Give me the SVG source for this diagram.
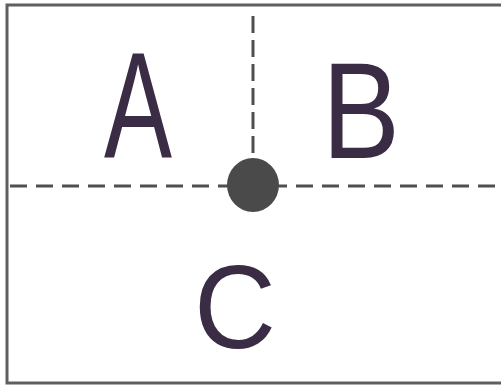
<svg xmlns="http://www.w3.org/2000/svg" width="501" height="387" viewBox="0 0 501 387">
  <style>
    .frame { fill: #ffffff; stroke: #5f5f5f; stroke-width: 3; }
    .dash { stroke: #4f4f4f; stroke-width: 3; fill: none; }
    .lbl { font-family: "Liberation Sans", Arial, sans-serif; fill: #3a2c44; }
    .dot { fill: #4a4a4a; }
  </style>
  <rect x="0" y="0" width="501" height="387" fill="#ffffff"/>
  <g id="frame">
    <rect class="frame" x="7" y="5" width="500" height="378"/>
  </g>
  <g id="connectors">
    <line class="dash" x1="10" y1="186" x2="501" y2="186" stroke-dasharray="17 9"/>
    <line class="dash" x1="253" y1="16" x2="253" y2="165" stroke-dasharray="17 7" stroke-width="2.5"/>
  </g>
  <g id="node-center">
    <ellipse class="dot" cx="253" cy="185" rx="26" ry="27"/>
  </g>
  <g id="node-A">
    <text class="lbl" x="104" y="157" font-size="150" textLength="68" lengthAdjust="spacingAndGlyphs">A</text>
  </g>
  <g id="node-B">
    <text class="lbl" x="322" y="158" font-size="137" textLength="78" lengthAdjust="spacingAndGlyphs">B</text>
  </g>
  <g id="node-C">
    <text class="lbl" x="194" y="348" font-size="118" textLength="82" lengthAdjust="spacingAndGlyphs">C</text>
  </g>
</svg>
